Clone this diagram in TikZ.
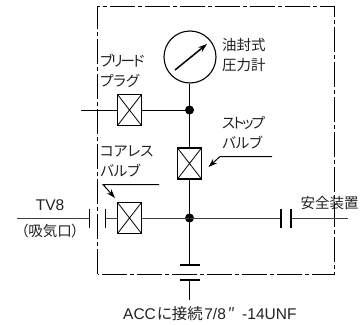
\documentclass[tikz,border=0pt]{standalone}
\usepackage{fontspec}
\setmainfont{Liberation Sans}
\newfontfamily\cjk[RawFeature=+palt]{Noto Sans CJK JP}
\newfontfamily\cjktight[RawFeature=+palt,LetterSpace=-14]{Noto Sans CJK JP}
\usetikzlibrary{arrows.meta,calc}
\definecolor{txt}{gray}{0.13}
\tikzset{
  x=1pt,y=-1pt,
  wire/.style={line width=1pt,black},
  plate/.style={line width=1.2pt,black},
  frame/.style={line width=1pt,black,dash pattern=on 25pt off 3pt on 4pt off 3pt},
  valve/.style={draw=black,line width=1.1pt,minimum width=24pt,minimum height=31pt,inner sep=0pt,
    path picture={\draw[line width=.8pt] (path picture bounding box.north west)--(path picture bounding box.south east)
      (path picture bounding box.north east)--(path picture bounding box.south west);}},
  dotj/.style={circle,fill=black,minimum size=9pt,inner sep=0pt},
  gauge/.style={circle,draw=black,line width=1.1pt,minimum size=52pt,inner sep=0pt},
  lbl/.style={font=\fontsize{14.5}{20}\selectfont\cjk,text=txt,inner sep=0pt,align=left},
  lat/.style={font=\fontsize{15.5}{20}\selectfont,text=txt,inner sep=0pt},
  lead/.style={line width=1pt,black},
  tip/.style={-{Stealth[length=9pt,width=6pt]}}
}
\begin{document}
\begin{tikzpicture}
\useasboundingbox (0,0) rectangle (364,324);
% frame
\draw[frame] (97.5,274) -- (97.5,6.5) -- (334.5,6.5) -- (334.5,274) -- cycle;
% nodes
\node[gauge] (g) at (190,57) {};
\node[valve] (bv) at (129.5,110) {};
\node[valve] (sv) at (189.5,163.5) {};
\node[valve] (cv) at (129.5,218) {};
\node[dotj] (j1) at (189.5,110) {};
\node[dotj] (j2) at (189.5,218) {};
% free ends
\coordinate (bl) at (81,110);
\coordinate (il) at (17,218);
\coordinate (c1) at (89.5,218);
\coordinate (c2) at (105.5,218);
\coordinate (c3) at (281,218);
\coordinate (c4) at (291,218);
\coordinate (ol) at (348,218);
\coordinate (d1) at (189.5,265);
\coordinate (d2) at (189.5,280);
\coordinate (d3) at (189.5,300);
% wires
\draw[wire] (bl) -- (bv.west);
\draw[wire] (bv.east) -- (j1.center);
\draw[wire] (g.south -| j1) -- (j1.center);
\draw[wire] (j1.center) -- (sv.north);
\draw[wire] (sv.south) -- (j2.center);
\draw[wire,black!75] (il) -- (c1);
\draw[wire,black!75] (c2) -- (cv.west);
\draw[wire,black!75] (cv.east) -- (j2.center);
\draw[wire,black!75] (j2.center) -- (c3);
\draw[wire,black!75] (c4) -- (ol);
\draw[wire] (j2.center) -- (d1);
\draw[wire] (d2) -- (d3);
% coupling plates
\draw[plate] ($(c1)+(0,-9.5)$) -- ($(c1)+(0,9.5)$);
\draw[plate] ($(c2)+(0,-9.5)$) -- ($(c2)+(0,9.5)$);
\draw[plate] ($(c3)+(0,-9.5)$) -- ($(c3)+(0,9.5)$);
\draw[plate] ($(c4)+(0,-9.5)$) -- ($(c4)+(0,9.5)$);
\draw[plate] ($(d1)+(-10,0)$) -- ($(d1)+(10,0)$);
\draw[plate] ($(d2)+(-10,0)$) -- ($(d2)+(10,0)$);
% gauge needle
\coordinate (n1) at (175,70);
\coordinate (n2) at (207,44);
\draw[line width=1.5pt,tip] (n1) -- (n2);
% adjustment leaders
\coordinate (a1) at (159,184.5);
\coordinate (a2) at (103,184.5);
\coordinate (a3) at (115,198);
\draw[lead,tip] (a1) -- (a2) -- (a3);
\coordinate (b1) at (272,156.5);
\coordinate (b2) at (220,156.5);
\coordinate (b3) at (208.5,167);
\draw[lead,tip] (b1) -- (b2) -- (b3);
% labels
\node[lbl,anchor=west] (t1) at (100,61) {\cjktight ブリード};
\node[lbl,anchor=west] (t2) at (100,81) {プラグ};
\node[lbl,anchor=west] (t3) at (222,45) {油封式};
\node[lbl,anchor=west] (t4) at (222,65) {圧力計};
\node[lbl,anchor=west] (t5) at (222,123) {\cjktight ストップ};
\node[lbl,anchor=west] (t6) at (222,143) {バルブ};
\node[lbl,anchor=west] (t7) at (100,151) {コアレス};
\node[lbl,anchor=west] (t8) at (100,171) {バルブ};
\node[lat] (t9) at (50,205) {TV8};
\node[lbl] (t10) at (50,231) {（吸気口）};
\node[lbl] (t11) at (329.5,203) {安全装置};
\node[lat,anchor=west] (t12) at (123,314) {ACC\hspace{1pt}{\cjk に接続}\hspace{1.5pt}7/8\hspace{2pt}{\cjk ″}\hspace{7pt}-14UNF};
\end{tikzpicture}
\end{document}
